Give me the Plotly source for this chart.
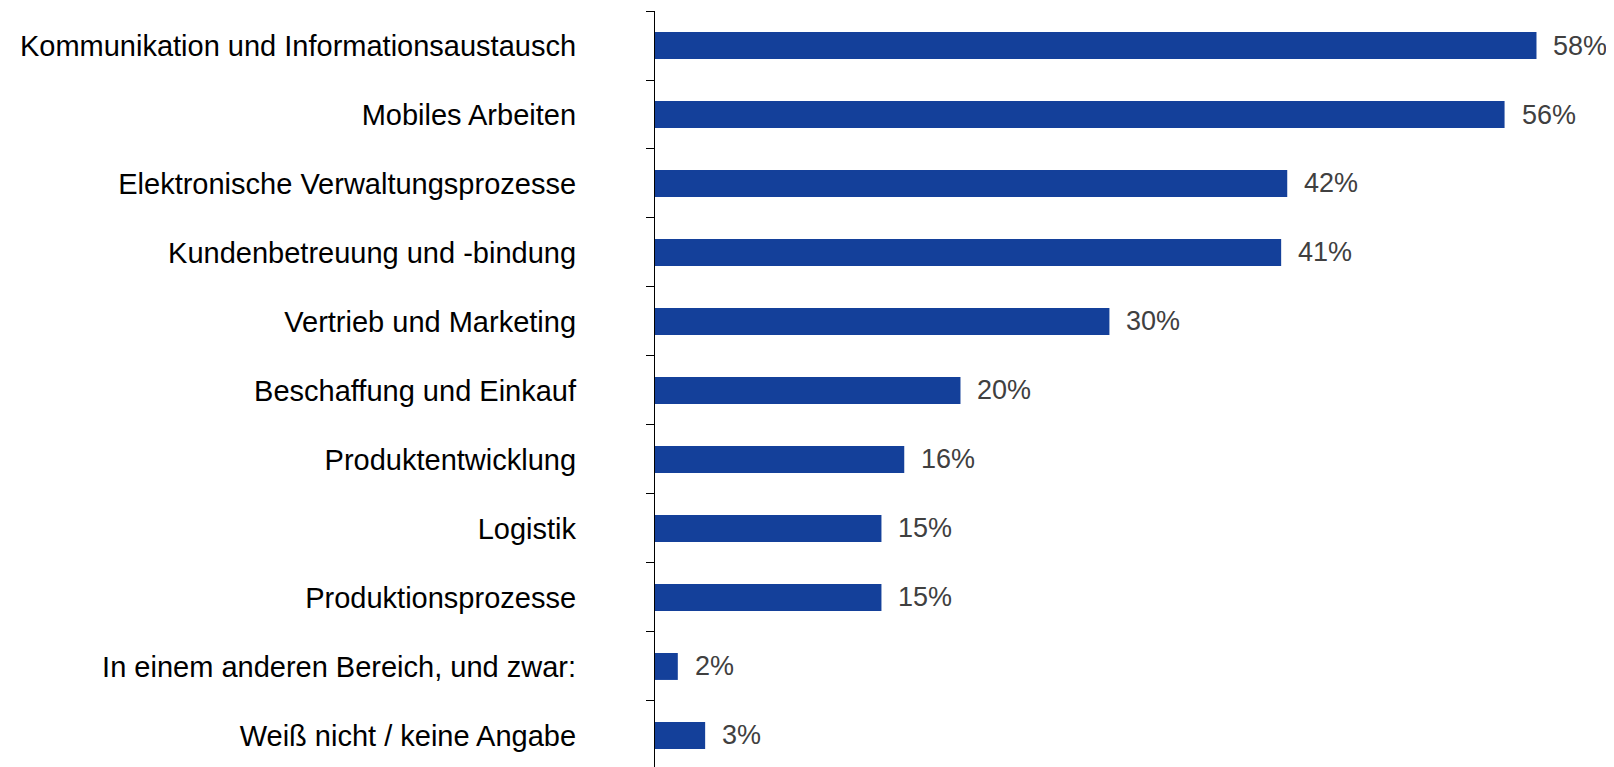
import plotly.graph_objects as go

categories = [
    "Kommunikation und Informationsaustausch",
    "Mobiles Arbeiten",
    "Elektronische Verwaltungsprozesse",
    "Kundenbetreuung und -bindung",
    "Vertrieb und Marketing",
    "Beschaffung und Einkauf",
    "Produktentwicklung",
    "Logistik",
    "Produktionsprozesse",
    "In einem anderen Bereich, und zwar:",
    "Weiß nicht / keine Angabe",
]
values = [58.0, 55.9, 41.6, 41.2, 29.9, 20.1, 16.4, 14.9, 14.9, 1.5, 3.3]
value_labels = ["58%", "56%", "42%", "41%", "30%", "20%", "16%", "15%", "15%", "2%", "3%"]

FONT = "Liberation Sans, Arial, Helvetica, sans-serif"
BAR_COLOR = "#14409A"

fig = go.Figure()
fig.add_trace(go.Bar(
    x=values,
    y=categories,
    orientation="h",
    marker=dict(color=BAR_COLOR, line=dict(width=0)),
    hoverinfo="skip",
))

for cat, val, lab in zip(categories, values, value_labels):
    fig.add_annotation(
        x=val, y=cat, text=lab, showarrow=False,
        xanchor="left", yanchor="middle", xshift=15,
        font=dict(family=FONT, size=27, color="#404040"),
    )

fig.update_layout(
    width=1606, height=759,
    margin=dict(l=647, r=0, t=3, b=0, pad=0),
    paper_bgcolor="white", plot_bgcolor="white",
    showlegend=False,
    bargap=0.61,
    xaxis=dict(range=[0, 63.1], showticklabels=False, showgrid=False,
               zeroline=False, showline=False, ticks=""),
    yaxis=dict(
        categoryorder="array", categoryarray=categories,
        range=[10.457, -0.5],
        showline=True, linecolor="black", linewidth=1.3,
        ticks="outside", tickson="boundaries", ticklen=8, tickwidth=1.3,
        tickcolor="black",
        showgrid=False, zeroline=False,
        tickfont=dict(family=FONT, size=29, color="black"),
        ticklabelstandoff=72,
    ),
)

fig.write_html("out.html")
